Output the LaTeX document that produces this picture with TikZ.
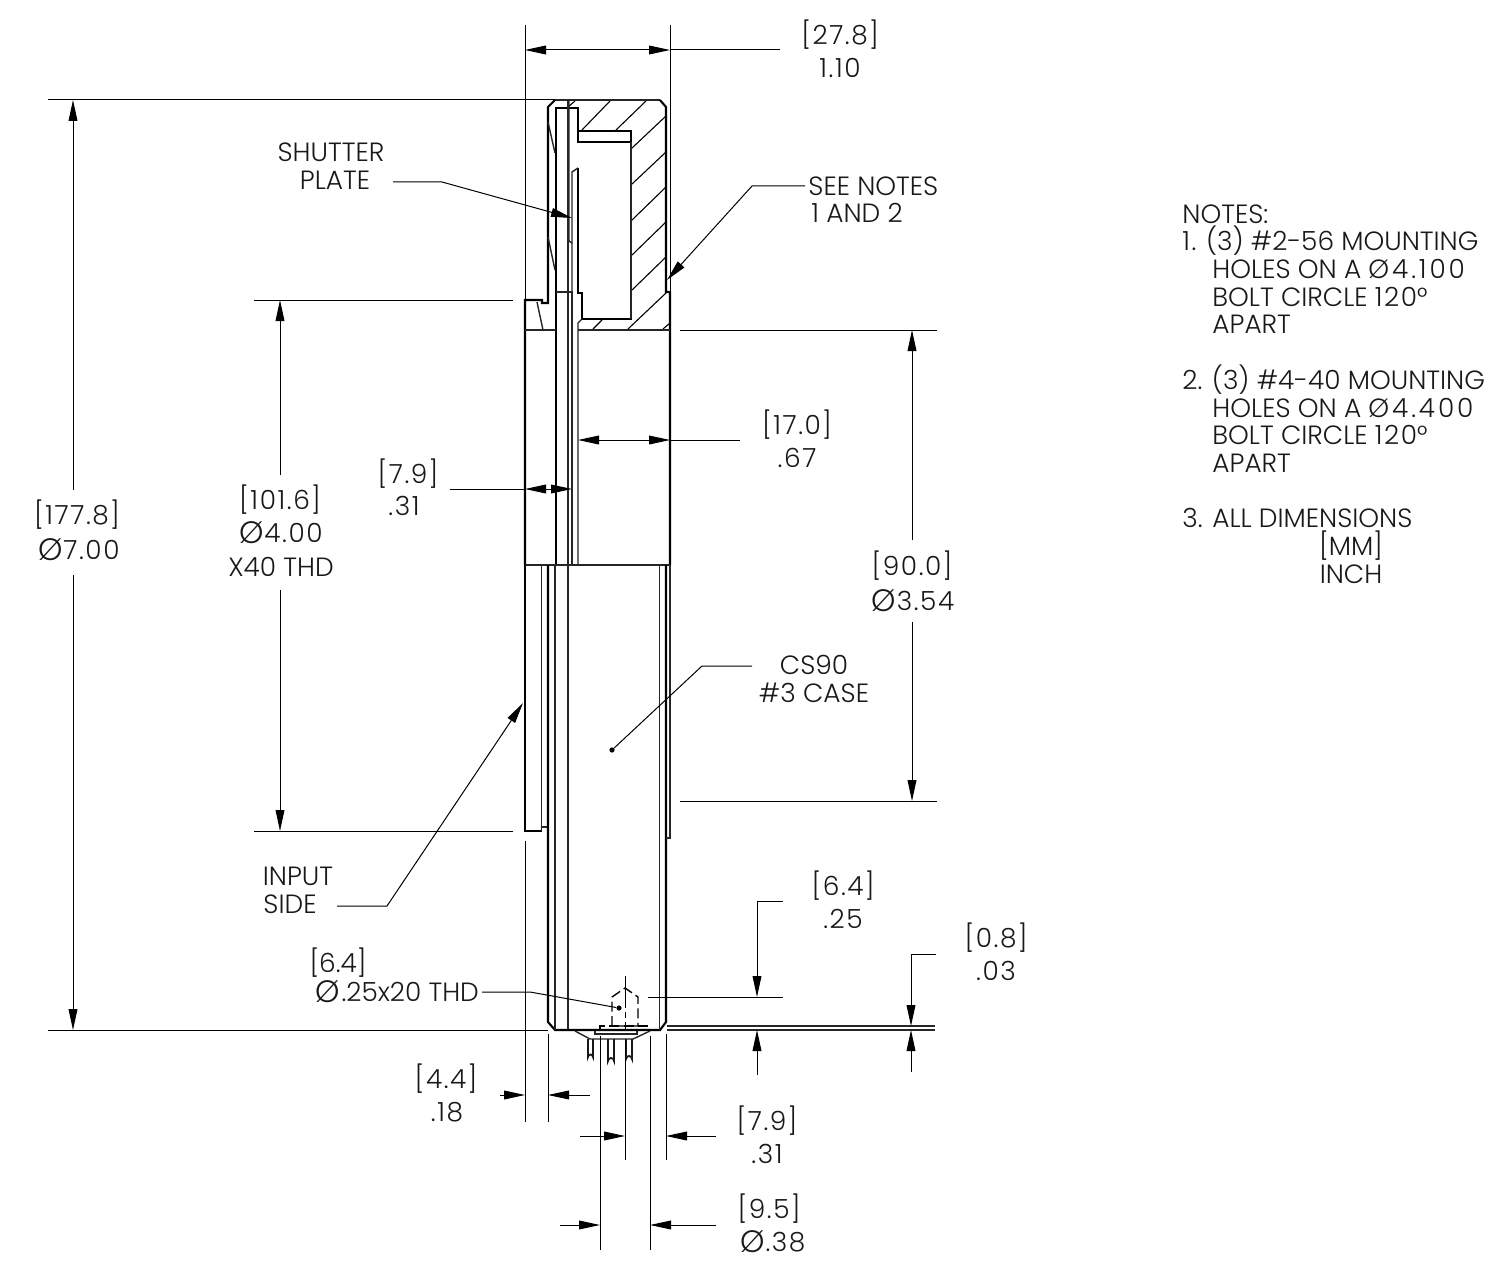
\documentclass[tikz,border=0pt]{standalone}
\usepackage{fontspec}
\setmainfont{Poppins Light}
\usetikzlibrary{arrows.meta}
\newcommand{\dg}[1]{{\addfontfeature{LetterSpace=6}#1}}
\newcommand{\dgw}[1]{{\addfontfeature{LetterSpace=11}#1}}
\newcommand{\br}[1]{[\kern0.8pt\dg{#1}\kern0.6pt]}
\newcommand{\dia}{{\fontsize{15.5}{13.2}\selectfont\raisebox{-0.5pt}{Ø}}\kern0.3pt}
\tikzset{
 thick part/.style={line width=1.05pt,black},
 thin part/.style={line width=0.7pt,black!85},
 hatchline/.style={line width=0.55pt,black},
 dimline/.style={line width=0.5pt,black},
 dim/.style={dimline,{Triangle[length=10.5pt,width=4.4pt]}-{Triangle[length=10.5pt,width=4.4pt]}},
 dimto/.style={dimline,-{Triangle[length=10.5pt,width=4.4pt]}},
 txt/.style={font=\fontsize{13.2}{13.2}\selectfont,inner sep=0pt,text=black!90},
 ctr/.style={txt,anchor=center},
 lft/.style={txt,anchor=west},
 pin/.style={line width=0.9pt,black!90},
 hiddenline/.style={line width=0.7pt,dash pattern=on 5pt off 2.2pt},
 dot/.style={circle,fill=black,inner sep=0pt,minimum size=2.6pt}
}
\begin{document}
\begin{tikzpicture}[x=0.5pt,y=-0.5pt]
\useasboundingbox (0,0) rectangle (1500,1268);
\fill[white] (0,0) rectangle (1500,1268);
% ---- hatching
\foreach \a/\b/\c/\d in {568/107/575/101,582/130/610/101,616/130/646/101,632/148/666/116,632/184/666/152,632/220/666/187,632/255/666/222,632/290/666/257,628/329/666/293,663/329/670/323,593/329/602/320}
 \draw[hatchline] (\a,\b)--(\c,\d);
% ---- head outline
\draw[thin part] (555,100)--(660,100);
\draw[thick part] (555,100)--(548,107)--(548,303)--(542,303)--(542,300)--(525,300)--(525,565);
\draw[thick part] (660,100)--(666,107)--(666,292)--(670,292)--(670,565);
\draw[thick part] (556,565)--(556,108)--(578,108)--(578,142)--(631,142);
\draw[thick part] (578,131)--(631,131)--(631,319)--(582,319)--(582,293)--(578,293)--(578,168);
\draw[thin part] (631,142)--(631,319);
\draw[thin part] (578,565)--(578,323)--(582,319);
\draw[thin part] (568,100)--(568,1031);
\draw[thin part] (572,565)--(572,292)--(556,292);
\draw[thin part] (572,292)--(572,243)--(569,241)--(569,100);
\draw[thin part] (572,243)--(572,172)--(578,168);
\draw[thin part] (548,122)--(555,153);
\draw[thin part] (548,237)--(555,270);
\draw[thin part] (537,302)--(543,330);
\draw[thin part] (525,330)--(556,330);
\draw[thin part] (578,330)--(670,330);
\draw[thin part] (525,565)--(670,565);
% ---- body
\draw[thick part] (525,565)--(525,831)--(542,831);
\draw[thin part] (541.5,565)--(541.5,831);
\draw[thin part] (541.5,827)--(548,827);
\draw[thick part] (548,565)--(548,1022)--(555,1030)--(660,1030)--(666,1022)--(666,565);
\draw[thin part] (555,565)--(555,1030);
\draw[thin part] (659.5,565)--(659.5,1030);
\draw[thin part] (670,565)--(670,838)--(666,838);
% ---- connector and pins
\draw[thin part] (575,1031)--(590,1039)--(633,1039)--(650,1031);
\draw[thin part] (595,1031)--(595,1034)--(637,1034)--(637,1031);
\draw[pin] (588,1039)--(588,1057) arc[start angle=180,end angle=360,radius=2.5]--(593,1039);
\draw[pin] (608,1039)--(608,1061) arc[start angle=180,end angle=360,radius=3]--(614,1039);
\draw[pin] (626,1039)--(626,1059) arc[start angle=180,end angle=360,radius=3]--(632,1039);
% ---- hidden thread
\draw[hiddenline] (612,1026)--(612,997)--(625,988)--(638,997)--(638,1026)--cycle;
\draw[hiddenline] (600,1031)--(600,1026)--(650,1026)--(650,1031);
\draw[dimline,dash pattern=on 16pt off 2pt on 3pt off 2pt] (625,976)--(625,1031);
% ---- extension lines
\draw[dimline] (525,25)--(525,300);
\draw[dimline] (670,25)--(670,292);
\draw[dimline] (48,100)--(555,100);
\draw[dimline] (48,1030)--(548,1030);
\draw[dimline] (254,300)--(513,300);
\draw[dimline] (254,831)--(513,831);
\draw[dimline] (680,330)--(937,330);
\draw[dimline] (680,801)--(937,801);
\draw[dimline] (525,841)--(525,1122);
\draw[dimline] (548,1034)--(548,1122);
\draw[dimline] (600,1036)--(600,1250);
\draw[dimline] (625,1040)--(625,1160);
\draw[dimline] (650,1036)--(650,1250);
\draw[dimline] (666,1034)--(666,1160);
\draw[dimline] (648,997)--(783,997);
\draw[thin part] (667,1026)--(935,1026);
\draw[thin part] (667,1030)--(935,1030);
% ---- dimensions
\draw[dim] (525,50)--(670,50);
\draw[dimline] (670,50)--(780,50);
\draw[dimto] (73,490)--(73,100);
\draw[dimto] (73,575)--(73,1030);
\draw[dimto] (280,475)--(280,300);
\draw[dimto] (280,590)--(280,831);
\draw[dimto] (912,540)--(912,330);
\draw[dimto] (912,622)--(912,801);
\draw[dim] (578,440)--(670,440);
\draw[dimline] (670,440)--(740,440);
\draw[dim] (525,489)--(572,489);
\draw[dimline] (450,489)--(525,489);
\draw[dimto] (500,1095)--(525,1095);
\draw[dimto] (590,1095)--(548,1095);
\draw[dimto] (580,1136)--(625,1136);
\draw[dimto] (716,1136)--(666,1136);
\draw[dimto] (560,1225)--(600,1225);
\draw[dimto] (716,1225)--(650,1225);
\draw[dimto] (783,901)--(757,901)--(757,997);
\draw[dimto] (757,1075)--(757,1030);
\draw[dimto] (936,954)--(911,954)--(911,1026);
\draw[dimto] (911,1072)--(911,1030);
% ---- texts
\node[ctr] (d1a) at (840,35) {\br{27.8}};
\node[ctr] (d1b) at (840,68) {\dg{1.10}};
\node[ctr] (sp1) at (331,152) {SHUTTER};
\node[ctr] (sp2) at (335,180) {PLATE};
\node[lft] (sn1) at (808,186) {SEE NOTES};
\node[lft] (sn2) at (811,213) {1 AND 2};
\node[ctr] (d2a) at (797,425) {\br{17.0}};
\node[ctr] (d2b) at (797,458) {\dg{.67}};
\node[ctr] (d3a) at (408,474) {\br{7.9}};
\node[ctr] (d3b) at (404,506) {\dg{.31}};
\node[ctr] (d4a) at (280,500) {\br{101.6}};
\node[ctr] (d4b) at (281,533) {\dia\dg{4.00}};
\node[ctr] (d4c) at (281,567) {X40 THD};
\node[ctr] (d5a) at (77,515) {\br{177.8}};
\node[ctr] (d5b) at (79,550) {\dia\dg{7.00}};
\node[ctr] (d6a) at (912,566) {\br{90.0}};
\node[ctr] (d6b) at (913,601) {\dia\dg{3.54}};
\node[ctr] (cs1) at (814,665) {CS90};
\node[ctr] (cs2) at (814,693) {\#3 CASE};
\node[ctr] (in1) at (298,876) {INPUT};
\node[ctr] (in2) at (290,904) {SIDE};
\node[ctr] (d7a) at (843,886) {\br{6.4}};
\node[ctr] (d7b) at (843,919) {\dg{.25}};
\node[ctr] (d8a) at (996,938) {\br{0.8}};
\node[ctr] (d8b) at (996,971) {\dg{.03}};
\node[ctr] (d9a) at (338,963) {[6.4]};
\node[lft] (d9b) at (315,992) {\dia\kern0.6pt.25x20 THD};
\node[ctr] (d10a) at (446,1079) {\br{4.4}};
\node[ctr] (d10b) at (447,1112) {\dg{.18}};
\node[ctr] (d11a) at (767,1121) {\br{7.9}};
\node[ctr] (d11b) at (767,1154) {\dg{.31}};
\node[ctr] (d12a) at (769,1209) {\br{9.5}};
\node[ctr] (d12b) at (773,1242) {\dia\dg{.38}};
% notes
\node[lft] (n0) at (1182,214) {NOTES:};
\node[lft] (n1) at (1182,241) {\dg{1.} (3) \#2-56 MOUNTING};
\node[lft] (n2) at (1212,269) {HOLES ON A \dgw{Ø4.100}};
\node[lft] (n3) at (1212,297) {BOLT CIRCLE \dg{120}°};
\node[lft] (n4) at (1212,324) {APART};
\node[lft] (n5) at (1182,380) {2. (3) \#4-40 MOUNTING};
\node[lft] (n6) at (1212,408) {HOLES ON A \dgw{Ø4.400}};
\node[lft] (n7) at (1212,435) {BOLT CIRCLE \dg{120}°};
\node[lft] (n8) at (1212,463) {APART};
\node[lft] (n9) at (1182,518) {3. ALL DIMENSIONS};
\node[ctr] (n10) at (1351,546) {[MM]};
\node[ctr] (n11) at (1351,574) {INCH};
% ---- leaders
\coordinate (spTip) at (572,218);
\coordinate (snTip) at (667,280);
\coordinate (inTip) at (523,703);
\node[dot] (csDot) at (612,750) {};
\node[dot] (thDot) at (619,1008) {};
\draw[dimto] (393,182)--(442,182)--(spTip);
\draw[dimto] (805,186)--(752,186)--(snTip);
\draw[dimto] (337,906)--(387,906)--(inTip);
\draw[dimline] (752,666)--(702,666)--(csDot);
\draw[dimline] (482,992)--(530,992)--(thDot);
\end{tikzpicture}
\end{document}
